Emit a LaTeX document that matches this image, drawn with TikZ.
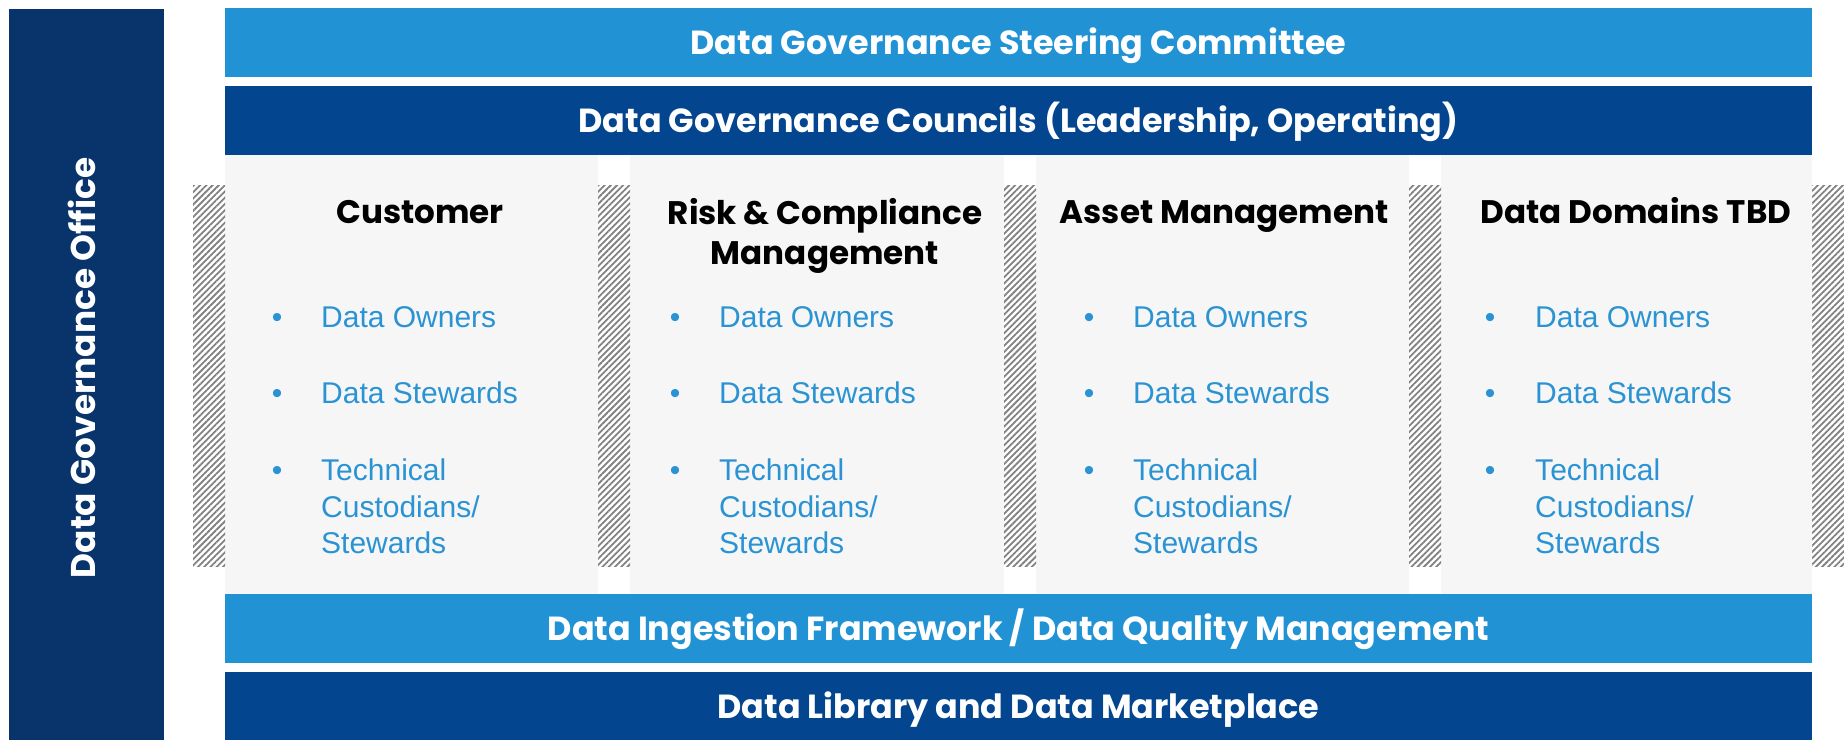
\documentclass[tikz,border=0pt]{standalone}
\usepackage{fontspec}
\setmainfont{Liberation Sans}
\newfontfamily\gothic{Poppins}
\usetikzlibrary{patterns.meta}
\definecolor{navy}{HTML}{08336B}
\definecolor{darkblue}{HTML}{03468F}
\definecolor{lightblue}{HTML}{2193D5}
\definecolor{panelgray}{HTML}{F6F6F6}
\definecolor{bulletblue}{HTML}{2A93D4}
\definecolor{hatchgray}{HTML}{828282}
\begin{document}
\begin{tikzpicture}[x=1pt,y=-1pt,
  block/.style={inner sep=0pt, outer sep=0pt, minimum width=#1},
  block/.default=1587pt,
  bartext/.style={text=white, font=\gothic\bfseries\fontsize{33.4}{40}\selectfont,
    text height=24pt, text depth=0pt},
  officetext/.style={text=white, font=\gothic\bfseries\fontsize{34.3}{40}\selectfont,
    text height=24.5pt, text depth=0pt, inner sep=0pt},
  headtext/.style={text=black, font=\gothic\bfseries\fontsize{32.6}{40}\selectfont,
    inner sep=0pt, align=center},
  bul/.style={text=bulletblue, font=\fontsize{30}{36.5}\selectfont, inner sep=0pt},
  bulitem/.style={bul, align=left, anchor=north west},
  hatchstrip/.style={fill=white, postaction={pattern={Lines[angle=45,distance=4.4pt,line width=1.8pt]}, pattern color=hatchgray}}
]
\useasboundingbox (0,0) rectangle (1844,740);
% left office bar
\node[block=155pt, minimum height=731pt, fill=navy] (office) at (86.5,374.5) {};
\node[officetext, rotate=90] (officelabel) at (83.5,368) {Data Governance Office};
% top bars
\node[block, minimum height=69pt, fill=lightblue, bartext] (steer) at (1018.5,42.5) {Data Governance Steering Committee};
\node[block, minimum height=69pt, fill=darkblue, bartext] (council) at (1018.5,120.5) {Data Governance Councils (Leadership, Operating)};
% panels
\node[block=373pt, minimum height=439pt, fill=panelgray] (p1) at (411.5,374.5) {};
\node[block=374pt, minimum height=439pt, fill=panelgray] (p2) at (817,374.5) {};
\node[block=373pt, minimum height=439pt, fill=panelgray] (p3) at (1222.5,374.5) {};
\node[block=371pt, minimum height=439pt, fill=panelgray] (p4) at (1626.5,374.5) {};
% hatched strips
\path[hatchstrip] (193,185) rectangle (225,566);
\path[hatchstrip] (598,185) rectangle (630,566);
\path[hatchstrip] (1004,185) rectangle (1036,566);
\path[hatchstrip] (1409,185) rectangle (1441,566);
\path[hatchstrip] (1812,185) rectangle (1844,566);
% bottom bars
\node[block, minimum height=69pt, fill=lightblue, bartext] (ingest) at (1018.5,628.5) {Data Ingestion Framework / Data Quality Management};
\node[block, minimum height=68pt, fill=darkblue, bartext] (library) at (1018.5,706) {Data Library and Data Marketplace};
% headers
\node[headtext, anchor=base] (h1) at (420,223) {Customer};
\node[headtext, anchor=north] (h2) at (825,198) {Risk \& Compliance\\Management};
\node[headtext, anchor=base] (h3) at (1224,223) {Asset Management};
\node[headtext, anchor=base] (h4) at (1636,223) {Data Domains TBD};
% bullets
\foreach \b/\t/\n in {277/321/a, 675/719/b, 1089/1133/c, 1490/1535/d}{
  \node[bul, anchor=base] (dot1\n) at (\b,327) {•};
  \node[bul, anchor=base] (dot2\n) at (\b,403) {•};
  \node[bul, anchor=base] (dot3\n) at (\b,480) {•};
  \node[bul, anchor=base west] (own\n) at (\t,327) {Data Owners};
  \node[bul, anchor=base west] (stew\n) at (\t,403) {Data Stewards};
  \node[bulitem] (tech\n) at (\t,459) {Technical\\Custodians/\\Stewards};
}
\end{tikzpicture}
\end{document}
